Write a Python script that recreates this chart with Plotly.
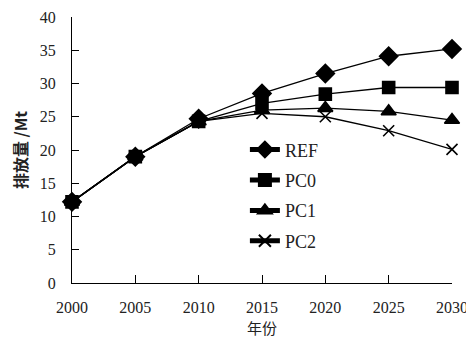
import plotly.graph_objects as go

years = [2000, 2005, 2010, 2015, 2020, 2025, 2030]
ref = [12.2, 19.0, 24.7, 28.5, 31.5, 34.1, 35.2]
pc0 = [12.2, 19.0, 24.3, 27.0, 28.4, 29.4, 29.4]
pc1 = [12.2, 19.0, 24.3, 26.0, 26.3, 25.8, 24.5]
pc2 = [12.2, 19.0, 24.3, 25.5, 25.0, 22.9, 20.1]

series = [
    ("REF", ref, "diamond", 14),
    ("PC0", pc0, "square", 12),
    ("PC1", pc1, "triangle-up", 13),
    ("PC2", pc2, "x-thin-open", 11),
]

fig = go.Figure()
for name, vals, sym, sz in series:
    fig.add_trace(go.Scatter(
        x=years, y=vals, name=name, mode="lines+markers",
        line=dict(color="black", width=1.3),
        marker=dict(symbol=sym, size=sz, color="black",
                    line=dict(color="black", width=1.6)),
        legendgroup=name, cliponaxis=False,
    ))

serif = "Liberation Serif, Times New Roman, serif"
fig.update_layout(
    width=466, height=338,
    margin=dict(l=64, r=22, t=9, b=63),
    paper_bgcolor="white", plot_bgcolor="white",
    font=dict(family=serif, size=16, color="#222"),
    showlegend=True,
    legend=dict(x=0.455, y=0.57, xanchor="left", yanchor="top",
                bgcolor="rgba(0,0,0,0)", tracegroupgap=4, itemsizing="constant",
                font=dict(family=serif, size=18, color="#222")),
    xaxis=dict(range=[2000, 2030], tickvals=years, ticks="inside", ticklen=8,
               showline=True, linecolor="black", linewidth=1.2, showgrid=False,
               zeroline=False, tickcolor="black", automargin=False,
               ticklabelstandoff=10,
               title=dict(text="年份", font=dict(family="Noto Sans CJK SC", size=15), standoff=8)),
    yaxis=dict(range=[0, 40], dtick=5, ticks="inside", ticklen=7,
               showline=True, linecolor="black", linewidth=1.2, showgrid=False,
               zeroline=False, tickcolor="black", automargin=False,
               ticklabelstandoff=12,
               title=dict(text="<b>排放量 /Mt</b>", font=dict(family="Noto Sans CJK SC", size=16), standoff=8)),
)
fig.write_html("out.html")
